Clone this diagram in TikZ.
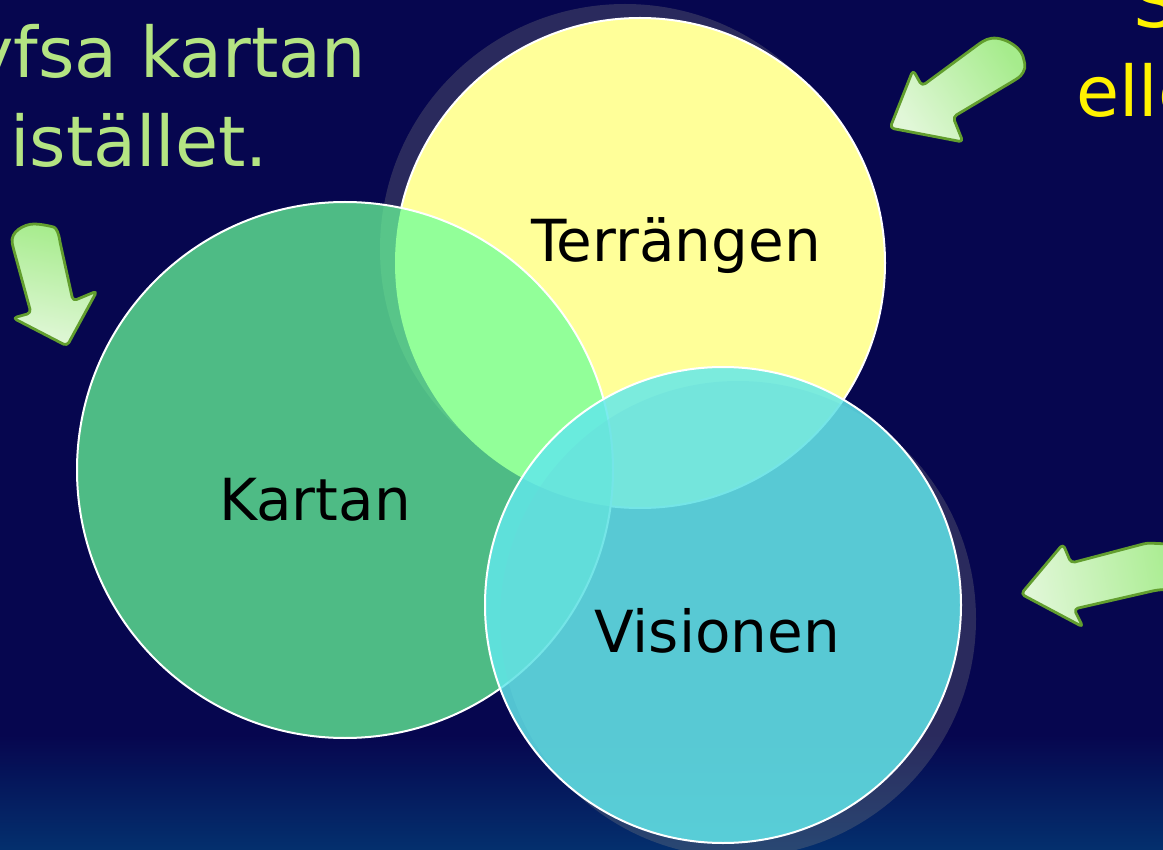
\documentclass[tikz,border=0pt]{standalone}
\usepackage{fontspec}
\setmainfont{DejaVu Sans}
\usetikzlibrary{calc}
\definecolor{navy}{RGB}{6,6,79}
\definecolor{bluebot}{RGB}{4,48,110}
\definecolor{terrfill}{RGB}{255,255,153}
\definecolor{kartfill}{RGB}{106,255,154}
\definecolor{visfill}{RGB}{98,232,235}
\definecolor{shadowgray}{RGB}{128,128,128}
\definecolor{lefttext}{RGB}{180,228,130}
\definecolor{arrowedge}{RGB}{98,158,46}
\definecolor{arrowtail}{RGB}{166,236,140}
\definecolor{arrowhead}{RGB}{225,247,216}
\tikzset{
  circlabel/.style={inner sep=0pt, anchor=base, font=\fontsize{58}{60}\selectfont, text=black},
  sidetext/.style={inner sep=0pt, font=\fontsize{70}{80}\selectfont},
  rim/.style={draw=white, line width=2pt},
  shadowdisc/.style={fill=shadowgray, fill opacity=0.3},
  greenarrow/.style={draw=arrowedge, line width=2.8pt, line join=round, rounded corners=4pt,
    top color=arrowtail, bottom color=arrowhead},
}
\begin{document}
\begin{tikzpicture}[x=1pt,y=-1pt]
\useasboundingbox (0,0) rectangle (1163,850);
\clip (0,0) rectangle (1163,850);
% background
\fill[navy] (0,0) rectangle (1163,850);
\shade[top color=navy, bottom color=bluebot] (0,735) rectangle (1163,851);

\coordinate (T) at (640,263);
\coordinate (K) at (345,470);
\coordinate (V) at (723,605);

% Terraengen with shadow
\fill[shadowdisc] ($(T)+(-15,-14)$) circle (245);
\fill[terrfill] (T) circle (245);
\begin{scope}[even odd rule]
  \clip (-10,-10) rectangle (1173,860) (K) circle (268);
  \draw[rim] (T) circle (245);
\end{scope}

% Kartan
\fill[kartfill, fill opacity=0.73] (K) circle (268);
\draw[rim] (K) circle (268);

% Visionen with shadow
\fill[shadowdisc] ($(V)+(15,14)$) circle (238);
\fill[visfill, fill opacity=0.84] (V) circle (238);
\draw[rim] (V) circle (238);

% labels
\node[circlabel] (terr) at (676,262) {Terrängen};
\node[circlabel] (kart) at (315,520) {Kartan};
\node[circlabel] (vis) at (717,652) {Visionen};

% side texts
\node[sidetext, text=lefttext, anchor=base east] (hyfsa) at (366,78) {Hyfsa kartan};
\node[sidetext, text=lefttext, anchor=base west] (istallet) at (10,167) {istället.};
\node[sidetext, text=yellow, anchor=base west] (sline) at (1133,28) {S};
\node[sidetext, text=yellow, anchor=base west] (eller) at (1076,117) {eller};

% arrows
\shadedraw[greenarrow, shading angle=-12]
  (13,247) .. controls (10,232) and (24,224) .. (38,224)
  -- (50,226) .. controls (57,228) and (59,236) .. (60,242)
  -- (73,301) -- (97,291) -- (67,346) -- (13,318) -- (31,313) -- cycle;

\shadedraw[greenarrow, shading angle=-55]
  (983,41) .. controls (1000,34) and (1020,46) .. (1024,60)
  .. controls (1026,70) and (1021,76) .. (1015,80)
  -- (953,117) -- (963,142) -- (890,128) -- (913,70) -- (922,86) -- cycle;

\shadedraw[greenarrow, shading angle=-80]
  (1190,545) -- (1147,543) -- (1071,563) -- (1063,544) -- (1021,594)
  -- (1083,627) -- (1074,609) -- (1157,590) -- (1190,588) -- cycle;
\end{tikzpicture}
\end{document}
